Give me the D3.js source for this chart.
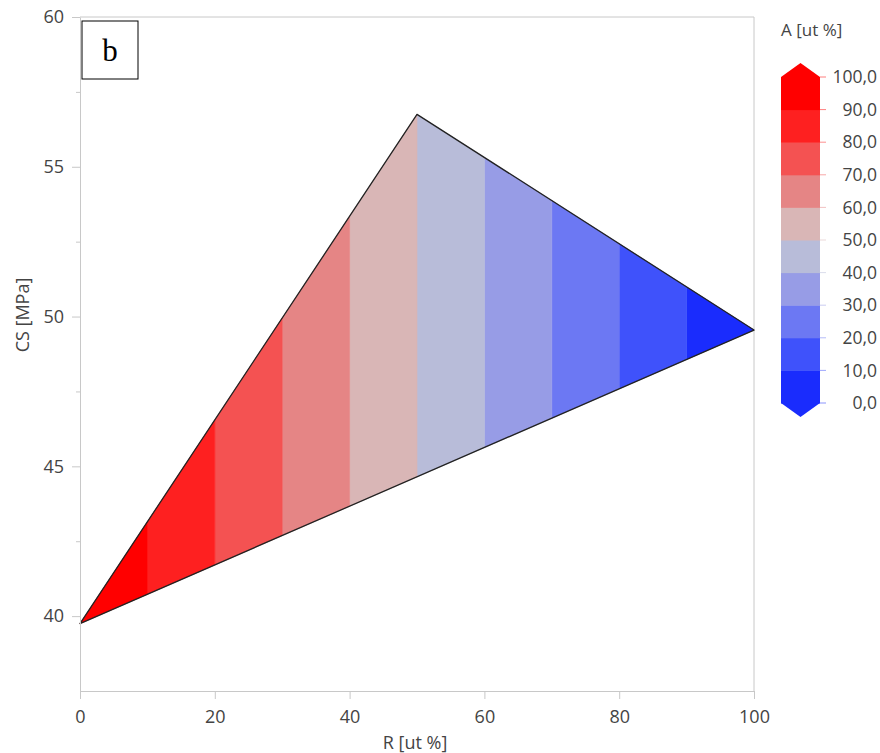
<!DOCTYPE html>
<html>
<head>
<meta charset="utf-8">
<script src="https://cdn.jsdelivr.net/npm/d3@7"></script>
<style>
  body { margin: 0; background: #fff; }
  text { font-family: "Open Sans", "Noto Sans", sans-serif; fill: #444; }
</style>
</head>
<body>
<div id="chart"></div>
<script>
// triangle corners (R = x, CS = y)
var cornerR = [0, 50, 100];
var cornerCS = [39.75, 56.75, 49.55];

// A [ut %] classes, A = 100 - R
var aBreaks = [0, 10, 20, 30, 40, 50, 60, 70, 80, 90, 100];
var aColors = ["#1a2cfd", "#3f52fb", "#6c78f3", "#979ce6", "#b8bcd9",
               "#d9b6b6", "#e58585", "#f45252", "#fe2020", "#ff0000"];

var xTicks = [0, 20, 40, 60, 80, 100];
var yTicks = [40, 45, 50, 55, 60];
var yMinor = [42.5, 47.5, 52.5, 57.5];

var W = 880, H = 753;
var svg = d3.select("#chart").append("svg").attr("width", W).attr("height", H);

var x = d3.scaleLinear().domain([0, 100]).range([80, 754]);
var y = d3.scaleLinear().domain([37.5, 60]).range([691, 17]);

var axisColor = "#c8c8c8";

// frame top + right
svg.append("line").attr("x1", x(0)).attr("x2", x(100)).attr("y1", y(60)).attr("y2", y(60))
    .attr("stroke", axisColor);
svg.append("line").attr("x1", x(100)).attr("x2", x(100)).attr("y1", y(60)).attr("y2", y(37.5))
    .attr("stroke", axisColor);

// edges of the triangle
function topCS(r) {
    return d3.scaleLinear().domain(cornerR).range(cornerCS)(r);
}
function botCS(r) {
    return d3.scaleLinear().domain([cornerR[0], cornerR[2]]).range([cornerCS[0], cornerCS[2]])(r);
}

var line = d3.line().x(function(d) { return x(d[0]); }).y(function(d) { return y(d[1]); });

var bands = d3.range(aBreaks.length - 1).map(function(i) {
    var a = 100 - aBreaks[i + 1], b = 100 - aBreaks[i];
    return { color: aColors[i], pts: [[a, topCS(a)], [b, topCS(b)], [b, botCS(b)], [a, botCS(a)]] };
});

svg.append("g").selectAll("path")
    .data(bands)
    .enter().append("path")
    .attr("d", function(d) { return line(d.pts) + "Z"; })
    .attr("fill", function(d) { return d.color; })
    .attr("stroke", function(d) { return d.color; })
    .attr("stroke-width", 0.6);

svg.append("path")
    .attr("d", line(cornerR.map(function(r, i) { return [r, cornerCS[i]]; })) + "Z")
    .attr("fill", "none")
    .attr("stroke", "#222")
    .attr("stroke-width", 1.3)
    .attr("stroke-linejoin", "round");

// axes
var gx = svg.append("g").attr("transform", "translate(0," + y(37.5) + ")")
    .call(d3.axisBottom(x).tickValues(xTicks).tickSize(8).tickPadding(11).tickSizeOuter(0));
var gy = svg.append("g").attr("transform", "translate(" + x(0) + ",0)")
    .call(d3.axisLeft(y).tickValues(yTicks).tickSize(8).tickPadding(8).tickSizeOuter(0));
svg.append("g").attr("transform", "translate(" + x(0) + ",0)")
    .call(d3.axisLeft(y).tickValues(yMinor).tickSize(4).tickFormat(""))
    .call(function(g) { g.select(".domain").remove(); })
    .selectAll("line").attr("stroke", axisColor);

[gx, gy].forEach(function(g) {
    g.select(".domain").attr("stroke", axisColor);
    g.selectAll(".tick line").attr("stroke", axisColor);
    g.selectAll(".tick text").style("font-size", "18px").attr("fill", "#444");
});

svg.append("text").attr("x", 415).attr("y", 749).attr("text-anchor", "middle")
    .style("font-size", "18px").text("R [ut %]");
svg.append("text").attr("transform", "translate(29,315) rotate(-90)").attr("text-anchor", "middle")
    .style("font-size", "18px").text("CS [MPa]");

// panel label
svg.append("rect").attr("x", 82).attr("y", 21).attr("width", 56).attr("height", 58)
    .attr("fill", "#fff").attr("stroke", "#000").attr("stroke-width", 1);
svg.append("text").attr("x", 110).attr("y", 61).attr("text-anchor", "middle")
    .style("font-family", "'Liberation Serif', 'DejaVu Serif', serif").style("font-size", "31px")
    .style("fill", "#000").text("b");

// colour legend
var ly = d3.scaleLinear().domain([0, 100]).range([403, 77]);
var lx0 = 781, lx1 = 820;
var leg = svg.append("g");
leg.append("text").attr("x", 781).attr("y", 36).style("font-size", "17px").text("A [ut %]");

leg.selectAll("rect")
    .data(d3.range(aColors.length))
    .enter().append("rect")
    .attr("x", lx0).attr("width", lx1 - lx0)
    .attr("y", function(i) { return ly(aBreaks[i + 1]); })
    .attr("height", function(i) { return ly(aBreaks[i]) - ly(aBreaks[i + 1]) + 0.5; })
    .attr("fill", function(i) { return aColors[i]; });

var mid = (lx0 + lx1) / 2;
leg.append("path")
    .attr("d", "M" + lx0 + "," + ly(100) + "L" + mid + "," + (ly(100) - 14) + "L" + lx1 + "," + ly(100) + "Z")
    .attr("fill", aColors[aColors.length - 1]);
leg.append("path")
    .attr("d", "M" + lx0 + "," + ly(0) + "L" + mid + "," + (ly(0) + 14) + "L" + lx1 + "," + ly(0) + "Z")
    .attr("fill", aColors[0]);

leg.selectAll(".lt")
    .data(aBreaks)
    .enter().append("line")
    .attr("x1", lx1).attr("x2", lx1 + 6)
    .attr("y1", function(d) { return ly(d); }).attr("y2", function(d) { return ly(d); })
    .attr("stroke", function(d, i) { return aColors[Math.min(i, aColors.length - 1)]; })
    .attr("stroke-opacity", 0.5);

leg.selectAll(".ll")
    .data(aBreaks)
    .enter().append("text")
    .attr("x", 877)
    .attr("y", function(d) { return ly(d); })
    .attr("dy", "0.35em")
    .attr("text-anchor", "end")
    .style("font-size", "17.5px")
    .text(function(d) { return d3.format(".1f")(d).replace(".", ","); });
</script>
</body>
</html>
